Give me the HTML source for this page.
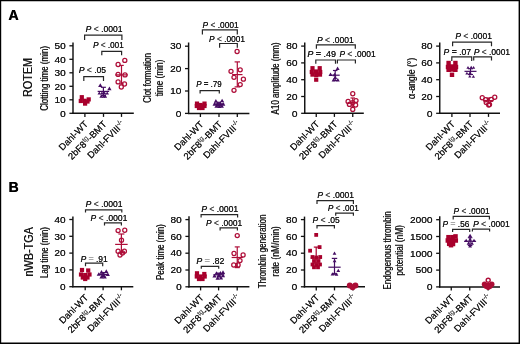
<!DOCTYPE html>
<html><head><meta charset="utf-8"><style>
html,body{margin:0;padding:0;background:#fff;width:520px;height:344px;overflow:hidden}
svg{display:block;will-change:transform}
text{font-family:"Liberation Sans", sans-serif}
</style></head><body>
<svg width="520" height="344" viewBox="0 0 520 344" font-family='"Liberation Sans", sans-serif'>
<rect x="0" y="0" width="520" height="344" fill="#fff"/>
<path d="M0 0H520V344H0Z M1.2 1.2V342.5H518.6V1.2Z" fill="#000" fill-rule="evenodd"/>
<text x="8.2" y="19.9" font-size="14" font-weight="bold" fill="#000">A</text>
<text x="8.4" y="191.9" font-size="14" font-weight="bold" fill="#000">B</text>
<text x="8.65" y="19.9" font-size="14" font-weight="bold" fill="#000">A</text>
<text x="8.85" y="191.9" font-size="14" font-weight="bold" fill="#000">B</text>
<text transform="translate(32.3 77.3) rotate(-90) scale(0.86 1)" font-size="12.6" text-anchor="middle" fill="#1a1a1a">ROTEM</text>
<text transform="translate(32.5 251.6) rotate(-90) scale(0.86 1)" font-size="12.6" text-anchor="middle" fill="#1a1a1a">nWB-TGA</text>
<text transform="translate(32.3 77.7) rotate(-90) scale(0.86 1)" font-size="12.6" text-anchor="middle" fill="#1a1a1a">ROTEM</text>
<text transform="translate(32.5 252) rotate(-90) scale(0.86 1)" font-size="12.6" text-anchor="middle" fill="#1a1a1a">nWB-TGA</text>
<line x1="73" y1="42.5" x2="73" y2="113.95" stroke="#111" stroke-width="1.45"/>
<line x1="69.4" y1="113.3" x2="73" y2="113.3" stroke="#111" stroke-width="1.3"/>
<text transform="translate(65.7 116.5) scale(1.11 1)" font-size="9.1" text-anchor="end" fill="#1a1a1a">0</text>
<text transform="translate(65.85 116.5) scale(1.11 1)" font-size="9.1" text-anchor="end" fill="#1a1a1a">0</text>
<line x1="69.4" y1="99.8" x2="73" y2="99.8" stroke="#111" stroke-width="1.3"/>
<text transform="translate(65.7 103) scale(1.11 1)" font-size="9.1" text-anchor="end" fill="#1a1a1a">10</text>
<text transform="translate(65.85 103) scale(1.11 1)" font-size="9.1" text-anchor="end" fill="#1a1a1a">10</text>
<line x1="69.4" y1="86.3" x2="73" y2="86.3" stroke="#111" stroke-width="1.3"/>
<text transform="translate(65.7 89.5) scale(1.11 1)" font-size="9.1" text-anchor="end" fill="#1a1a1a">20</text>
<text transform="translate(65.85 89.5) scale(1.11 1)" font-size="9.1" text-anchor="end" fill="#1a1a1a">20</text>
<line x1="69.4" y1="72.8" x2="73" y2="72.8" stroke="#111" stroke-width="1.3"/>
<text transform="translate(65.7 76) scale(1.11 1)" font-size="9.1" text-anchor="end" fill="#1a1a1a">30</text>
<text transform="translate(65.85 76) scale(1.11 1)" font-size="9.1" text-anchor="end" fill="#1a1a1a">30</text>
<line x1="69.4" y1="59.3" x2="73" y2="59.3" stroke="#111" stroke-width="1.3"/>
<text transform="translate(65.7 62.5) scale(1.11 1)" font-size="9.1" text-anchor="end" fill="#1a1a1a">40</text>
<text transform="translate(65.85 62.5) scale(1.11 1)" font-size="9.1" text-anchor="end" fill="#1a1a1a">40</text>
<line x1="69.4" y1="45.8" x2="73" y2="45.8" stroke="#111" stroke-width="1.3"/>
<text transform="translate(65.7 49) scale(1.11 1)" font-size="9.1" text-anchor="end" fill="#1a1a1a">50</text>
<text transform="translate(65.85 49) scale(1.11 1)" font-size="9.1" text-anchor="end" fill="#1a1a1a">50</text>
<line x1="72.3" y1="113.3" x2="133.8" y2="113.3" stroke="#111" stroke-width="1.45"/>
<line x1="84.9" y1="113.3" x2="84.9" y2="116.9" stroke="#111" stroke-width="1.3"/>
<line x1="103.5" y1="113.3" x2="103.5" y2="116.9" stroke="#111" stroke-width="1.3"/>
<line x1="121.5" y1="113.3" x2="121.5" y2="116.9" stroke="#111" stroke-width="1.3"/>
<text transform="translate(88.6 124.8) rotate(-45)" font-size="9.4" text-anchor="end" fill="#1a1a1a">Dahl-WT</text>
<text transform="translate(88.75 124.8) rotate(-45)" font-size="9.4" text-anchor="end" fill="#1a1a1a">Dahl-WT</text>
<text transform="translate(107.2 124.8) rotate(-45)" font-size="9.4" text-anchor="end" fill="#1a1a1a">2bF8<tspan font-size="6.8" dy="-3.4" fill="#555">tg</tspan><tspan dy="3.4">-BMT</tspan></text>
<text transform="translate(107.35 124.8) rotate(-45)" font-size="9.4" text-anchor="end" fill="#1a1a1a">2bF8<tspan font-size="6.8" dy="-3.4" fill="#555">tg</tspan><tspan dy="3.4">-BMT</tspan></text>
<text transform="translate(125.2 124.8) rotate(-45)" font-size="9.4" text-anchor="end" fill="#1a1a1a">Dahl-FVIII<tspan font-size="6.4" dy="-3.8">-/-</tspan></text>
<text transform="translate(125.35 124.8) rotate(-45)" font-size="9.4" text-anchor="end" fill="#1a1a1a">Dahl-FVIII<tspan font-size="6.4" dy="-3.8">-/-</tspan></text>
<line x1="188.6" y1="42.5" x2="188.6" y2="114.05" stroke="#111" stroke-width="1.45"/>
<line x1="185" y1="113.4" x2="188.6" y2="113.4" stroke="#111" stroke-width="1.3"/>
<text transform="translate(181.3 116.6) scale(1.11 1)" font-size="9.1" text-anchor="end" fill="#1a1a1a">0</text>
<text transform="translate(181.45 116.6) scale(1.11 1)" font-size="9.1" text-anchor="end" fill="#1a1a1a">0</text>
<line x1="185" y1="91" x2="188.6" y2="91" stroke="#111" stroke-width="1.3"/>
<text transform="translate(181.3 94.2) scale(1.11 1)" font-size="9.1" text-anchor="end" fill="#1a1a1a">10</text>
<text transform="translate(181.45 94.2) scale(1.11 1)" font-size="9.1" text-anchor="end" fill="#1a1a1a">10</text>
<line x1="185" y1="68.6" x2="188.6" y2="68.6" stroke="#111" stroke-width="1.3"/>
<text transform="translate(181.3 71.8) scale(1.11 1)" font-size="9.1" text-anchor="end" fill="#1a1a1a">20</text>
<text transform="translate(181.45 71.8) scale(1.11 1)" font-size="9.1" text-anchor="end" fill="#1a1a1a">20</text>
<line x1="185" y1="46.2" x2="188.6" y2="46.2" stroke="#111" stroke-width="1.3"/>
<text transform="translate(181.3 49.4) scale(1.11 1)" font-size="9.1" text-anchor="end" fill="#1a1a1a">30</text>
<text transform="translate(181.45 49.4) scale(1.11 1)" font-size="9.1" text-anchor="end" fill="#1a1a1a">30</text>
<line x1="187.9" y1="113.4" x2="249.4" y2="113.4" stroke="#111" stroke-width="1.45"/>
<line x1="200.4" y1="113.4" x2="200.4" y2="117" stroke="#111" stroke-width="1.3"/>
<line x1="219" y1="113.4" x2="219" y2="117" stroke="#111" stroke-width="1.3"/>
<line x1="237.3" y1="113.4" x2="237.3" y2="117" stroke="#111" stroke-width="1.3"/>
<text transform="translate(204.1 124.9) rotate(-45)" font-size="9.4" text-anchor="end" fill="#1a1a1a">Dahl-WT</text>
<text transform="translate(204.25 124.9) rotate(-45)" font-size="9.4" text-anchor="end" fill="#1a1a1a">Dahl-WT</text>
<text transform="translate(222.7 124.9) rotate(-45)" font-size="9.4" text-anchor="end" fill="#1a1a1a">2bF8<tspan font-size="6.8" dy="-3.4" fill="#555">tg</tspan><tspan dy="3.4">-BMT</tspan></text>
<text transform="translate(222.85 124.9) rotate(-45)" font-size="9.4" text-anchor="end" fill="#1a1a1a">2bF8<tspan font-size="6.8" dy="-3.4" fill="#555">tg</tspan><tspan dy="3.4">-BMT</tspan></text>
<text transform="translate(241 124.9) rotate(-45)" font-size="9.4" text-anchor="end" fill="#1a1a1a">Dahl-FVIII<tspan font-size="6.4" dy="-3.8">-/-</tspan></text>
<text transform="translate(241.15 124.9) rotate(-45)" font-size="9.4" text-anchor="end" fill="#1a1a1a">Dahl-FVIII<tspan font-size="6.4" dy="-3.8">-/-</tspan></text>
<line x1="304.75" y1="42.5" x2="304.75" y2="113.95" stroke="#111" stroke-width="1.45"/>
<line x1="301.15" y1="113.3" x2="304.75" y2="113.3" stroke="#111" stroke-width="1.3"/>
<text transform="translate(297.45 116.5) scale(1.11 1)" font-size="9.1" text-anchor="end" fill="#1a1a1a">0</text>
<text transform="translate(297.6 116.5) scale(1.11 1)" font-size="9.1" text-anchor="end" fill="#1a1a1a">0</text>
<line x1="301.15" y1="96.5" x2="304.75" y2="96.5" stroke="#111" stroke-width="1.3"/>
<text transform="translate(297.45 99.7) scale(1.11 1)" font-size="9.1" text-anchor="end" fill="#1a1a1a">20</text>
<text transform="translate(297.6 99.7) scale(1.11 1)" font-size="9.1" text-anchor="end" fill="#1a1a1a">20</text>
<line x1="301.15" y1="79.7" x2="304.75" y2="79.7" stroke="#111" stroke-width="1.3"/>
<text transform="translate(297.45 82.9) scale(1.11 1)" font-size="9.1" text-anchor="end" fill="#1a1a1a">40</text>
<text transform="translate(297.6 82.9) scale(1.11 1)" font-size="9.1" text-anchor="end" fill="#1a1a1a">40</text>
<line x1="301.15" y1="62.9" x2="304.75" y2="62.9" stroke="#111" stroke-width="1.3"/>
<text transform="translate(297.45 66.1) scale(1.11 1)" font-size="9.1" text-anchor="end" fill="#1a1a1a">60</text>
<text transform="translate(297.6 66.1) scale(1.11 1)" font-size="9.1" text-anchor="end" fill="#1a1a1a">60</text>
<line x1="301.15" y1="46.1" x2="304.75" y2="46.1" stroke="#111" stroke-width="1.3"/>
<text transform="translate(297.45 49.3) scale(1.11 1)" font-size="9.1" text-anchor="end" fill="#1a1a1a">80</text>
<text transform="translate(297.6 49.3) scale(1.11 1)" font-size="9.1" text-anchor="end" fill="#1a1a1a">80</text>
<line x1="304.05" y1="113.3" x2="363.8" y2="113.3" stroke="#111" stroke-width="1.45"/>
<line x1="316.25" y1="113.3" x2="316.25" y2="116.9" stroke="#111" stroke-width="1.3"/>
<line x1="334.4" y1="113.3" x2="334.4" y2="116.9" stroke="#111" stroke-width="1.3"/>
<line x1="352.75" y1="113.3" x2="352.75" y2="116.9" stroke="#111" stroke-width="1.3"/>
<text transform="translate(319.95 124.8) rotate(-45)" font-size="9.4" text-anchor="end" fill="#1a1a1a">Dahl-WT</text>
<text transform="translate(320.1 124.8) rotate(-45)" font-size="9.4" text-anchor="end" fill="#1a1a1a">Dahl-WT</text>
<text transform="translate(338.1 124.8) rotate(-45)" font-size="9.4" text-anchor="end" fill="#1a1a1a">2bF8<tspan font-size="6.8" dy="-3.4" fill="#555">tg</tspan><tspan dy="3.4">-BMT</tspan></text>
<text transform="translate(338.25 124.8) rotate(-45)" font-size="9.4" text-anchor="end" fill="#1a1a1a">2bF8<tspan font-size="6.8" dy="-3.4" fill="#555">tg</tspan><tspan dy="3.4">-BMT</tspan></text>
<text transform="translate(356.45 124.8) rotate(-45)" font-size="9.4" text-anchor="end" fill="#1a1a1a">Dahl-FVIII<tspan font-size="6.4" dy="-3.8">-/-</tspan></text>
<text transform="translate(356.6 124.8) rotate(-45)" font-size="9.4" text-anchor="end" fill="#1a1a1a">Dahl-FVIII<tspan font-size="6.4" dy="-3.8">-/-</tspan></text>
<line x1="439.75" y1="42.5" x2="439.75" y2="113.95" stroke="#111" stroke-width="1.45"/>
<line x1="436.15" y1="113.3" x2="439.75" y2="113.3" stroke="#111" stroke-width="1.3"/>
<text transform="translate(432.45 116.5) scale(1.11 1)" font-size="9.1" text-anchor="end" fill="#1a1a1a">0</text>
<text transform="translate(432.6 116.5) scale(1.11 1)" font-size="9.1" text-anchor="end" fill="#1a1a1a">0</text>
<line x1="436.15" y1="96.5" x2="439.75" y2="96.5" stroke="#111" stroke-width="1.3"/>
<text transform="translate(432.45 99.7) scale(1.11 1)" font-size="9.1" text-anchor="end" fill="#1a1a1a">20</text>
<text transform="translate(432.6 99.7) scale(1.11 1)" font-size="9.1" text-anchor="end" fill="#1a1a1a">20</text>
<line x1="436.15" y1="79.7" x2="439.75" y2="79.7" stroke="#111" stroke-width="1.3"/>
<text transform="translate(432.45 82.9) scale(1.11 1)" font-size="9.1" text-anchor="end" fill="#1a1a1a">40</text>
<text transform="translate(432.6 82.9) scale(1.11 1)" font-size="9.1" text-anchor="end" fill="#1a1a1a">40</text>
<line x1="436.15" y1="62.9" x2="439.75" y2="62.9" stroke="#111" stroke-width="1.3"/>
<text transform="translate(432.45 66.1) scale(1.11 1)" font-size="9.1" text-anchor="end" fill="#1a1a1a">60</text>
<text transform="translate(432.6 66.1) scale(1.11 1)" font-size="9.1" text-anchor="end" fill="#1a1a1a">60</text>
<line x1="436.15" y1="46.1" x2="439.75" y2="46.1" stroke="#111" stroke-width="1.3"/>
<text transform="translate(432.45 49.3) scale(1.11 1)" font-size="9.1" text-anchor="end" fill="#1a1a1a">80</text>
<text transform="translate(432.6 49.3) scale(1.11 1)" font-size="9.1" text-anchor="end" fill="#1a1a1a">80</text>
<line x1="439.05" y1="113.3" x2="500" y2="113.3" stroke="#111" stroke-width="1.45"/>
<line x1="451.9" y1="113.3" x2="451.9" y2="116.9" stroke="#111" stroke-width="1.3"/>
<line x1="470" y1="113.3" x2="470" y2="116.9" stroke="#111" stroke-width="1.3"/>
<line x1="488.5" y1="113.3" x2="488.5" y2="116.9" stroke="#111" stroke-width="1.3"/>
<text transform="translate(455.6 124.8) rotate(-45)" font-size="9.4" text-anchor="end" fill="#1a1a1a">Dahl-WT</text>
<text transform="translate(455.75 124.8) rotate(-45)" font-size="9.4" text-anchor="end" fill="#1a1a1a">Dahl-WT</text>
<text transform="translate(473.7 124.8) rotate(-45)" font-size="9.4" text-anchor="end" fill="#1a1a1a">2bF8<tspan font-size="6.8" dy="-3.4" fill="#555">tg</tspan><tspan dy="3.4">-BMT</tspan></text>
<text transform="translate(473.85 124.8) rotate(-45)" font-size="9.4" text-anchor="end" fill="#1a1a1a">2bF8<tspan font-size="6.8" dy="-3.4" fill="#555">tg</tspan><tspan dy="3.4">-BMT</tspan></text>
<text transform="translate(492.2 124.8) rotate(-45)" font-size="9.4" text-anchor="end" fill="#1a1a1a">Dahl-FVIII<tspan font-size="6.4" dy="-3.8">-/-</tspan></text>
<text transform="translate(492.35 124.8) rotate(-45)" font-size="9.4" text-anchor="end" fill="#1a1a1a">Dahl-FVIII<tspan font-size="6.4" dy="-3.8">-/-</tspan></text>
<line x1="72.9" y1="216.5" x2="72.9" y2="287.35" stroke="#111" stroke-width="1.45"/>
<line x1="69.3" y1="286.7" x2="72.9" y2="286.7" stroke="#111" stroke-width="1.3"/>
<text transform="translate(65.6 289.9) scale(1.11 1)" font-size="9.1" text-anchor="end" fill="#1a1a1a">0</text>
<text transform="translate(65.75 289.9) scale(1.11 1)" font-size="9.1" text-anchor="end" fill="#1a1a1a">0</text>
<line x1="69.3" y1="269.9" x2="72.9" y2="269.9" stroke="#111" stroke-width="1.3"/>
<text transform="translate(65.6 273.1) scale(1.11 1)" font-size="9.1" text-anchor="end" fill="#1a1a1a">10</text>
<text transform="translate(65.75 273.1) scale(1.11 1)" font-size="9.1" text-anchor="end" fill="#1a1a1a">10</text>
<line x1="69.3" y1="253.1" x2="72.9" y2="253.1" stroke="#111" stroke-width="1.3"/>
<text transform="translate(65.6 256.3) scale(1.11 1)" font-size="9.1" text-anchor="end" fill="#1a1a1a">20</text>
<text transform="translate(65.75 256.3) scale(1.11 1)" font-size="9.1" text-anchor="end" fill="#1a1a1a">20</text>
<line x1="69.3" y1="236.3" x2="72.9" y2="236.3" stroke="#111" stroke-width="1.3"/>
<text transform="translate(65.6 239.5) scale(1.11 1)" font-size="9.1" text-anchor="end" fill="#1a1a1a">30</text>
<text transform="translate(65.75 239.5) scale(1.11 1)" font-size="9.1" text-anchor="end" fill="#1a1a1a">30</text>
<line x1="69.3" y1="219.5" x2="72.9" y2="219.5" stroke="#111" stroke-width="1.3"/>
<text transform="translate(65.6 222.7) scale(1.11 1)" font-size="9.1" text-anchor="end" fill="#1a1a1a">40</text>
<text transform="translate(65.75 222.7) scale(1.11 1)" font-size="9.1" text-anchor="end" fill="#1a1a1a">40</text>
<line x1="72.2" y1="286.7" x2="133.3" y2="286.7" stroke="#111" stroke-width="1.45"/>
<line x1="85.2" y1="286.7" x2="85.2" y2="290.3" stroke="#111" stroke-width="1.3"/>
<line x1="103.1" y1="286.7" x2="103.1" y2="290.3" stroke="#111" stroke-width="1.3"/>
<line x1="121.4" y1="286.7" x2="121.4" y2="290.3" stroke="#111" stroke-width="1.3"/>
<text transform="translate(88.9 298.2) rotate(-45)" font-size="9.4" text-anchor="end" fill="#1a1a1a">Dahl-WT</text>
<text transform="translate(89.05 298.2) rotate(-45)" font-size="9.4" text-anchor="end" fill="#1a1a1a">Dahl-WT</text>
<text transform="translate(106.8 298.2) rotate(-45)" font-size="9.4" text-anchor="end" fill="#1a1a1a">2bF8<tspan font-size="6.8" dy="-3.4" fill="#555">tg</tspan><tspan dy="3.4">-BMT</tspan></text>
<text transform="translate(106.95 298.2) rotate(-45)" font-size="9.4" text-anchor="end" fill="#1a1a1a">2bF8<tspan font-size="6.8" dy="-3.4" fill="#555">tg</tspan><tspan dy="3.4">-BMT</tspan></text>
<text transform="translate(125.1 298.2) rotate(-45)" font-size="9.4" text-anchor="end" fill="#1a1a1a">Dahl-FVIII<tspan font-size="6.4" dy="-3.8">-/-</tspan></text>
<text transform="translate(125.25 298.2) rotate(-45)" font-size="9.4" text-anchor="end" fill="#1a1a1a">Dahl-FVIII<tspan font-size="6.4" dy="-3.8">-/-</tspan></text>
<line x1="189" y1="216.3" x2="189" y2="287.45" stroke="#111" stroke-width="1.45"/>
<line x1="185.4" y1="286.8" x2="189" y2="286.8" stroke="#111" stroke-width="1.3"/>
<text transform="translate(181.7 290) scale(1.11 1)" font-size="9.1" text-anchor="end" fill="#1a1a1a">0</text>
<text transform="translate(181.85 290) scale(1.11 1)" font-size="9.1" text-anchor="end" fill="#1a1a1a">0</text>
<line x1="185.4" y1="270" x2="189" y2="270" stroke="#111" stroke-width="1.3"/>
<text transform="translate(181.7 273.2) scale(1.11 1)" font-size="9.1" text-anchor="end" fill="#1a1a1a">20</text>
<text transform="translate(181.85 273.2) scale(1.11 1)" font-size="9.1" text-anchor="end" fill="#1a1a1a">20</text>
<line x1="185.4" y1="253.2" x2="189" y2="253.2" stroke="#111" stroke-width="1.3"/>
<text transform="translate(181.7 256.4) scale(1.11 1)" font-size="9.1" text-anchor="end" fill="#1a1a1a">40</text>
<text transform="translate(181.85 256.4) scale(1.11 1)" font-size="9.1" text-anchor="end" fill="#1a1a1a">40</text>
<line x1="185.4" y1="236.4" x2="189" y2="236.4" stroke="#111" stroke-width="1.3"/>
<text transform="translate(181.7 239.6) scale(1.11 1)" font-size="9.1" text-anchor="end" fill="#1a1a1a">60</text>
<text transform="translate(181.85 239.6) scale(1.11 1)" font-size="9.1" text-anchor="end" fill="#1a1a1a">60</text>
<line x1="185.4" y1="219.6" x2="189" y2="219.6" stroke="#111" stroke-width="1.3"/>
<text transform="translate(181.7 222.8) scale(1.11 1)" font-size="9.1" text-anchor="end" fill="#1a1a1a">80</text>
<text transform="translate(181.85 222.8) scale(1.11 1)" font-size="9.1" text-anchor="end" fill="#1a1a1a">80</text>
<line x1="188.3" y1="286.8" x2="249.4" y2="286.8" stroke="#111" stroke-width="1.45"/>
<line x1="200.6" y1="286.8" x2="200.6" y2="290.4" stroke="#111" stroke-width="1.3"/>
<line x1="218.6" y1="286.8" x2="218.6" y2="290.4" stroke="#111" stroke-width="1.3"/>
<line x1="237.2" y1="286.8" x2="237.2" y2="290.4" stroke="#111" stroke-width="1.3"/>
<text transform="translate(204.3 298.3) rotate(-45)" font-size="9.4" text-anchor="end" fill="#1a1a1a">Dahl-WT</text>
<text transform="translate(204.45 298.3) rotate(-45)" font-size="9.4" text-anchor="end" fill="#1a1a1a">Dahl-WT</text>
<text transform="translate(222.3 298.3) rotate(-45)" font-size="9.4" text-anchor="end" fill="#1a1a1a">2bF8<tspan font-size="6.8" dy="-3.4" fill="#555">tg</tspan><tspan dy="3.4">-BMT</tspan></text>
<text transform="translate(222.45 298.3) rotate(-45)" font-size="9.4" text-anchor="end" fill="#1a1a1a">2bF8<tspan font-size="6.8" dy="-3.4" fill="#555">tg</tspan><tspan dy="3.4">-BMT</tspan></text>
<text transform="translate(240.9 298.3) rotate(-45)" font-size="9.4" text-anchor="end" fill="#1a1a1a">Dahl-FVIII<tspan font-size="6.4" dy="-3.8">-/-</tspan></text>
<text transform="translate(241.05 298.3) rotate(-45)" font-size="9.4" text-anchor="end" fill="#1a1a1a">Dahl-FVIII<tspan font-size="6.4" dy="-3.8">-/-</tspan></text>
<line x1="304.5" y1="216.6" x2="304.5" y2="287.45" stroke="#111" stroke-width="1.45"/>
<line x1="300.9" y1="286.8" x2="304.5" y2="286.8" stroke="#111" stroke-width="1.3"/>
<text transform="translate(297.2 290) scale(1.11 1)" font-size="9.1" text-anchor="end" fill="#1a1a1a">0</text>
<text transform="translate(297.35 290) scale(1.11 1)" font-size="9.1" text-anchor="end" fill="#1a1a1a">0</text>
<line x1="300.9" y1="270" x2="304.5" y2="270" stroke="#111" stroke-width="1.3"/>
<text transform="translate(297.2 273.2) scale(1.11 1)" font-size="9.1" text-anchor="end" fill="#1a1a1a">20</text>
<text transform="translate(297.35 273.2) scale(1.11 1)" font-size="9.1" text-anchor="end" fill="#1a1a1a">20</text>
<line x1="300.9" y1="253.2" x2="304.5" y2="253.2" stroke="#111" stroke-width="1.3"/>
<text transform="translate(297.2 256.4) scale(1.11 1)" font-size="9.1" text-anchor="end" fill="#1a1a1a">40</text>
<text transform="translate(297.35 256.4) scale(1.11 1)" font-size="9.1" text-anchor="end" fill="#1a1a1a">40</text>
<line x1="300.9" y1="236.4" x2="304.5" y2="236.4" stroke="#111" stroke-width="1.3"/>
<text transform="translate(297.2 239.6) scale(1.11 1)" font-size="9.1" text-anchor="end" fill="#1a1a1a">60</text>
<text transform="translate(297.35 239.6) scale(1.11 1)" font-size="9.1" text-anchor="end" fill="#1a1a1a">60</text>
<line x1="300.9" y1="219.6" x2="304.5" y2="219.6" stroke="#111" stroke-width="1.3"/>
<text transform="translate(297.2 222.8) scale(1.11 1)" font-size="9.1" text-anchor="end" fill="#1a1a1a">80</text>
<text transform="translate(297.35 222.8) scale(1.11 1)" font-size="9.1" text-anchor="end" fill="#1a1a1a">80</text>
<line x1="303.8" y1="286.8" x2="365" y2="286.8" stroke="#111" stroke-width="1.45"/>
<line x1="316.25" y1="286.8" x2="316.25" y2="290.4" stroke="#111" stroke-width="1.3"/>
<line x1="334.5" y1="286.8" x2="334.5" y2="290.4" stroke="#111" stroke-width="1.3"/>
<line x1="353" y1="286.8" x2="353" y2="290.4" stroke="#111" stroke-width="1.3"/>
<text transform="translate(319.95 298.3) rotate(-45)" font-size="9.4" text-anchor="end" fill="#1a1a1a">Dahl-WT</text>
<text transform="translate(320.1 298.3) rotate(-45)" font-size="9.4" text-anchor="end" fill="#1a1a1a">Dahl-WT</text>
<text transform="translate(338.2 298.3) rotate(-45)" font-size="9.4" text-anchor="end" fill="#1a1a1a">2bF8<tspan font-size="6.8" dy="-3.4" fill="#555">tg</tspan><tspan dy="3.4">-BMT</tspan></text>
<text transform="translate(338.35 298.3) rotate(-45)" font-size="9.4" text-anchor="end" fill="#1a1a1a">2bF8<tspan font-size="6.8" dy="-3.4" fill="#555">tg</tspan><tspan dy="3.4">-BMT</tspan></text>
<text transform="translate(356.7 298.3) rotate(-45)" font-size="9.4" text-anchor="end" fill="#1a1a1a">Dahl-FVIII<tspan font-size="6.4" dy="-3.8">-/-</tspan></text>
<text transform="translate(356.85 298.3) rotate(-45)" font-size="9.4" text-anchor="end" fill="#1a1a1a">Dahl-FVIII<tspan font-size="6.4" dy="-3.8">-/-</tspan></text>
<line x1="439.75" y1="216.3" x2="439.75" y2="287.55" stroke="#111" stroke-width="1.45"/>
<line x1="436.15" y1="286.9" x2="439.75" y2="286.9" stroke="#111" stroke-width="1.3"/>
<text transform="translate(432.45 290.1) scale(1.11 1)" font-size="9.1" text-anchor="end" fill="#1a1a1a">0</text>
<text transform="translate(432.6 290.1) scale(1.11 1)" font-size="9.1" text-anchor="end" fill="#1a1a1a">0</text>
<line x1="436.15" y1="270.1" x2="439.75" y2="270.1" stroke="#111" stroke-width="1.3"/>
<text transform="translate(432.45 273.3) scale(1.11 1)" font-size="9.1" text-anchor="end" fill="#1a1a1a">500</text>
<text transform="translate(432.6 273.3) scale(1.11 1)" font-size="9.1" text-anchor="end" fill="#1a1a1a">500</text>
<line x1="436.15" y1="253.3" x2="439.75" y2="253.3" stroke="#111" stroke-width="1.3"/>
<text transform="translate(432.45 256.5) scale(1.11 1)" font-size="9.1" text-anchor="end" fill="#1a1a1a">1000</text>
<text transform="translate(432.6 256.5) scale(1.11 1)" font-size="9.1" text-anchor="end" fill="#1a1a1a">1000</text>
<line x1="436.15" y1="236.5" x2="439.75" y2="236.5" stroke="#111" stroke-width="1.3"/>
<text transform="translate(432.45 239.7) scale(1.11 1)" font-size="9.1" text-anchor="end" fill="#1a1a1a">1500</text>
<text transform="translate(432.6 239.7) scale(1.11 1)" font-size="9.1" text-anchor="end" fill="#1a1a1a">1500</text>
<line x1="436.15" y1="219.7" x2="439.75" y2="219.7" stroke="#111" stroke-width="1.3"/>
<text transform="translate(432.45 222.9) scale(1.11 1)" font-size="9.1" text-anchor="end" fill="#1a1a1a">2000</text>
<text transform="translate(432.6 222.9) scale(1.11 1)" font-size="9.1" text-anchor="end" fill="#1a1a1a">2000</text>
<line x1="439.05" y1="286.9" x2="500" y2="286.9" stroke="#111" stroke-width="1.45"/>
<line x1="451.25" y1="286.9" x2="451.25" y2="290.5" stroke="#111" stroke-width="1.3"/>
<line x1="469.75" y1="286.9" x2="469.75" y2="290.5" stroke="#111" stroke-width="1.3"/>
<line x1="488.1" y1="286.9" x2="488.1" y2="290.5" stroke="#111" stroke-width="1.3"/>
<text transform="translate(454.95 298.4) rotate(-45)" font-size="9.4" text-anchor="end" fill="#1a1a1a">Dahl-WT</text>
<text transform="translate(455.1 298.4) rotate(-45)" font-size="9.4" text-anchor="end" fill="#1a1a1a">Dahl-WT</text>
<text transform="translate(473.45 298.4) rotate(-45)" font-size="9.4" text-anchor="end" fill="#1a1a1a">2bF8<tspan font-size="6.8" dy="-3.4" fill="#555">tg</tspan><tspan dy="3.4">-BMT</tspan></text>
<text transform="translate(473.6 298.4) rotate(-45)" font-size="9.4" text-anchor="end" fill="#1a1a1a">2bF8<tspan font-size="6.8" dy="-3.4" fill="#555">tg</tspan><tspan dy="3.4">-BMT</tspan></text>
<text transform="translate(491.8 298.4) rotate(-45)" font-size="9.4" text-anchor="end" fill="#1a1a1a">Dahl-FVIII<tspan font-size="6.4" dy="-3.8">-/-</tspan></text>
<text transform="translate(491.95 298.4) rotate(-45)" font-size="9.4" text-anchor="end" fill="#1a1a1a">Dahl-FVIII<tspan font-size="6.4" dy="-3.8">-/-</tspan></text>
<text transform="translate(47.6 78.2) rotate(-90) scale(0.74 1)" font-size="10.8" text-anchor="middle" fill="#1a1a1a">Clotting time (min)</text>
<text transform="translate(47.6 78.55) rotate(-90) scale(0.74 1)" font-size="10.8" text-anchor="middle" fill="#1a1a1a">Clotting time (min)</text>
<text transform="translate(150.9 77.8) rotate(-90) scale(0.74 1)" font-size="10.8" text-anchor="middle" fill="#1a1a1a">Clot formation</text>
<text transform="translate(150.9 78.15) rotate(-90) scale(0.74 1)" font-size="10.8" text-anchor="middle" fill="#1a1a1a">Clot formation</text>
<text transform="translate(162.8 77.8) rotate(-90) scale(0.74 1)" font-size="10.8" text-anchor="middle" fill="#1a1a1a" textLength="49.46" lengthAdjust="spacingAndGlyphs">time (min)</text>
<text transform="translate(162.8 78.15) rotate(-90) scale(0.74 1)" font-size="10.8" text-anchor="middle" fill="#1a1a1a" textLength="49.46" lengthAdjust="spacingAndGlyphs">time (min)</text>
<text transform="translate(279 78.3) rotate(-90) scale(0.74 1)" font-size="10.8" text-anchor="middle" fill="#1a1a1a">A10 amplitude (mm)</text>
<text transform="translate(279 78.65) rotate(-90) scale(0.74 1)" font-size="10.8" text-anchor="middle" fill="#1a1a1a">A10 amplitude (mm)</text>
<text transform="translate(414.7 78.2) rotate(-90) scale(0.74 1)" font-size="10.8" text-anchor="middle" fill="#1a1a1a" textLength="55.95" lengthAdjust="spacingAndGlyphs"><tspan font-size="11.5">α</tspan>-angle (°)</text>
<text transform="translate(414.7 78.55) rotate(-90) scale(0.74 1)" font-size="10.8" text-anchor="middle" fill="#1a1a1a" textLength="55.95" lengthAdjust="spacingAndGlyphs"><tspan font-size="11.5">α</tspan>-angle (°)</text>
<text transform="translate(47.6 252.4) rotate(-90) scale(0.74 1)" font-size="10.8" text-anchor="middle" fill="#1a1a1a">Lag time (min)</text>
<text transform="translate(47.6 252.75) rotate(-90) scale(0.74 1)" font-size="10.8" text-anchor="middle" fill="#1a1a1a">Lag time (min)</text>
<text transform="translate(164.2 251.95) rotate(-90) scale(0.74 1)" font-size="10.8" text-anchor="middle" fill="#1a1a1a">Peak time (min)</text>
<text transform="translate(164.2 252.3) rotate(-90) scale(0.74 1)" font-size="10.8" text-anchor="middle" fill="#1a1a1a">Peak time (min)</text>
<text transform="translate(265.9 251.2) rotate(-90) scale(0.74 1)" font-size="10.8" text-anchor="middle" fill="#1a1a1a">Thrombin generation</text>
<text transform="translate(265.9 251.55) rotate(-90) scale(0.74 1)" font-size="10.8" text-anchor="middle" fill="#1a1a1a">Thrombin generation</text>
<text transform="translate(278.6 251.2) rotate(-90) scale(0.74 1)" font-size="10.8" text-anchor="middle" fill="#1a1a1a" textLength="67.84" lengthAdjust="spacingAndGlyphs">rate (nM/min)</text>
<text transform="translate(278.6 251.55) rotate(-90) scale(0.74 1)" font-size="10.8" text-anchor="middle" fill="#1a1a1a" textLength="67.84" lengthAdjust="spacingAndGlyphs">rate (nM/min)</text>
<text transform="translate(390.6 250.2) rotate(-90) scale(0.74 1)" font-size="10.8" text-anchor="middle" fill="#1a1a1a">Endogenous thrombin</text>
<text transform="translate(390.6 250.55) rotate(-90) scale(0.74 1)" font-size="10.8" text-anchor="middle" fill="#1a1a1a">Endogenous thrombin</text>
<text transform="translate(403 250.2) rotate(-90) scale(0.74 1)" font-size="10.8" text-anchor="middle" fill="#1a1a1a" textLength="68.24" lengthAdjust="spacingAndGlyphs">potential (nM)</text>
<text transform="translate(403 250.55) rotate(-90) scale(0.74 1)" font-size="10.8" text-anchor="middle" fill="#1a1a1a" textLength="68.24" lengthAdjust="spacingAndGlyphs">potential (nM)</text>
<path d="M84.6 40V35.2H121.9V40" fill="none" stroke="#262626" stroke-width="1.2"/>
<text x="85.6" y="32.1" font-size="8.6" fill="#1a1a1a" textLength="36.9" lengthAdjust="spacingAndGlyphs"><tspan font-style="italic">P</tspan> <tspan fill="#4a4a4a" font-size="8.6">&lt;</tspan> .0001</text>
<text x="85.7" y="32.1" font-size="8.6" fill="#1a1a1a" textLength="36.9" lengthAdjust="spacingAndGlyphs"><tspan font-style="italic">P</tspan> <tspan fill="#4a4a4a" font-size="8.6">&lt;</tspan> .0001</text>
<path d="M101.8 55.2V51.4H121.6V55.2" fill="none" stroke="#262626" stroke-width="1.2"/>
<text x="93.1" y="47.8" font-size="8.6" fill="#1a1a1a" textLength="30.6" lengthAdjust="spacingAndGlyphs"><tspan font-style="italic">P</tspan> <tspan fill="#4a4a4a" font-size="8.6">&lt;</tspan> .001</text>
<text x="93.2" y="47.8" font-size="8.6" fill="#1a1a1a" textLength="30.6" lengthAdjust="spacingAndGlyphs"><tspan font-style="italic">P</tspan> <tspan fill="#4a4a4a" font-size="8.6">&lt;</tspan> .001</text>
<path d="M83.8 81V76.6H103.5V81" fill="none" stroke="#262626" stroke-width="1.2"/>
<text x="78.8" y="73.2" font-size="8.6" fill="#1a1a1a" textLength="27.2" lengthAdjust="spacingAndGlyphs"><tspan font-style="italic">P</tspan> <tspan fill="#4a4a4a" font-size="8.6">&lt;</tspan> .05</text>
<text x="78.9" y="73.2" font-size="8.6" fill="#1a1a1a" textLength="27.2" lengthAdjust="spacingAndGlyphs"><tspan font-style="italic">P</tspan> <tspan fill="#4a4a4a" font-size="8.6">&lt;</tspan> .05</text>
<path d="M202.4 34.4V29.8H237.3V34.4" fill="none" stroke="#262626" stroke-width="1.2"/>
<text x="202.5" y="27.8" font-size="8.6" fill="#1a1a1a" textLength="36.2" lengthAdjust="spacingAndGlyphs"><tspan font-style="italic">P</tspan> <tspan fill="#4a4a4a" font-size="8.6">&lt;</tspan> .0001</text>
<text x="202.6" y="27.8" font-size="8.6" fill="#1a1a1a" textLength="36.2" lengthAdjust="spacingAndGlyphs"><tspan font-style="italic">P</tspan> <tspan fill="#4a4a4a" font-size="8.6">&lt;</tspan> .0001</text>
<path d="M219.6 47.7V43.5H237.3V47.7" fill="none" stroke="#262626" stroke-width="1.2"/>
<text x="209" y="41.9" font-size="8.6" fill="#1a1a1a" textLength="36" lengthAdjust="spacingAndGlyphs"><tspan font-style="italic">P</tspan> <tspan fill="#4a4a4a" font-size="8.6">&lt;</tspan> .0001</text>
<text x="209.1" y="41.9" font-size="8.6" fill="#1a1a1a" textLength="36" lengthAdjust="spacingAndGlyphs"><tspan font-style="italic">P</tspan> <tspan fill="#4a4a4a" font-size="8.6">&lt;</tspan> .0001</text>
<path d="M200.1 93.6V90.6H219.3V93.6" fill="none" stroke="#262626" stroke-width="1.2"/>
<text x="196.2" y="87.4" font-size="8.6" fill="#1a1a1a" textLength="25.5" lengthAdjust="spacingAndGlyphs"><tspan font-style="italic">P</tspan> <tspan fill="#1a1a1a" font-weight="bold">=</tspan> .79</text>
<text x="196.3" y="87.4" font-size="8.6" fill="#1a1a1a" textLength="25.5" lengthAdjust="spacingAndGlyphs"><tspan font-style="italic">P</tspan> <tspan fill="#1a1a1a" font-weight="bold">=</tspan> .79</text>
<path d="M316.4 48.8V44.8H355.3V48.8" fill="none" stroke="#262626" stroke-width="1.2"/>
<text x="316.9" y="43.1" font-size="8.6" fill="#1a1a1a" textLength="36.8" lengthAdjust="spacingAndGlyphs"><tspan font-style="italic">P</tspan> <tspan fill="#4a4a4a" font-size="8.6">&lt;</tspan> .0001</text>
<text x="317" y="43.1" font-size="8.6" fill="#1a1a1a" textLength="36.8" lengthAdjust="spacingAndGlyphs"><tspan font-style="italic">P</tspan> <tspan fill="#4a4a4a" font-size="8.6">&lt;</tspan> .0001</text>
<path d="M315.8 63.7V60H335.5V63.7" fill="none" stroke="#262626" stroke-width="1.2"/>
<text x="307.3" y="56.9" font-size="8.6" fill="#1a1a1a" textLength="28.7" lengthAdjust="spacingAndGlyphs"><tspan font-style="italic">P</tspan> <tspan fill="#1a1a1a" font-weight="bold">=</tspan> .49</text>
<text x="307.4" y="56.9" font-size="8.6" fill="#1a1a1a" textLength="28.7" lengthAdjust="spacingAndGlyphs"><tspan font-style="italic">P</tspan> <tspan fill="#1a1a1a" font-weight="bold">=</tspan> .49</text>
<path d="M337.4 63.5V60H355.4V63.5" fill="none" stroke="#262626" stroke-width="1.2"/>
<text x="339.4" y="56.9" font-size="8.6" fill="#1a1a1a" textLength="36.2" lengthAdjust="spacingAndGlyphs"><tspan font-style="italic">P</tspan> <tspan fill="#4a4a4a" font-size="8.6">&lt;</tspan> .0001</text>
<text x="339.5" y="56.9" font-size="8.6" fill="#1a1a1a" textLength="36.2" lengthAdjust="spacingAndGlyphs"><tspan font-style="italic">P</tspan> <tspan fill="#4a4a4a" font-size="8.6">&lt;</tspan> .0001</text>
<path d="M452.6 46.3V42.1H491.5V46.3" fill="none" stroke="#262626" stroke-width="1.2"/>
<text x="455.3" y="39.2" font-size="8.6" fill="#1a1a1a" textLength="36.6" lengthAdjust="spacingAndGlyphs"><tspan font-style="italic">P</tspan> <tspan fill="#4a4a4a" font-size="8.6">&lt;</tspan> .0001</text>
<text x="455.4" y="39.2" font-size="8.6" fill="#1a1a1a" textLength="36.6" lengthAdjust="spacingAndGlyphs"><tspan font-style="italic">P</tspan> <tspan fill="#4a4a4a" font-size="8.6">&lt;</tspan> .0001</text>
<path d="M451.8 61V56.9H471.7V61" fill="none" stroke="#262626" stroke-width="1.2"/>
<text x="443.5" y="54.5" font-size="8.6" fill="#1a1a1a" textLength="27.5" lengthAdjust="spacingAndGlyphs"><tspan font-style="italic">P</tspan> <tspan fill="#1a1a1a" font-weight="bold">=</tspan> .07</text>
<text x="443.6" y="54.5" font-size="8.6" fill="#1a1a1a" textLength="27.5" lengthAdjust="spacingAndGlyphs"><tspan font-style="italic">P</tspan> <tspan fill="#1a1a1a" font-weight="bold">=</tspan> .07</text>
<path d="M473.7 60.6V56.9H491.5V60.6" fill="none" stroke="#262626" stroke-width="1.2"/>
<text x="473.8" y="54.8" font-size="8.6" fill="#1a1a1a" textLength="36.2" lengthAdjust="spacingAndGlyphs"><tspan font-style="italic">P</tspan> <tspan fill="#4a4a4a" font-size="8.6">&lt;</tspan> .0001</text>
<text x="473.9" y="54.8" font-size="8.6" fill="#1a1a1a" textLength="36.2" lengthAdjust="spacingAndGlyphs"><tspan font-style="italic">P</tspan> <tspan fill="#4a4a4a" font-size="8.6">&lt;</tspan> .0001</text>
<path d="M85.5 212.6V209.8H121.8V212.6" fill="none" stroke="#262626" stroke-width="1.2"/>
<text x="85.6" y="207.3" font-size="8.6" fill="#1a1a1a" textLength="36.9" lengthAdjust="spacingAndGlyphs"><tspan font-style="italic">P</tspan> <tspan fill="#4a4a4a" font-size="8.6">&lt;</tspan> .0001</text>
<text x="85.7" y="207.3" font-size="8.6" fill="#1a1a1a" textLength="36.9" lengthAdjust="spacingAndGlyphs"><tspan font-style="italic">P</tspan> <tspan fill="#4a4a4a" font-size="8.6">&lt;</tspan> .0001</text>
<path d="M104.5 225.6V222.9H121.4V225.6" fill="none" stroke="#262626" stroke-width="1.2"/>
<text x="90.5" y="221" font-size="8.6" fill="#1a1a1a" textLength="36.8" lengthAdjust="spacingAndGlyphs"><tspan font-style="italic">P</tspan> <tspan fill="#4a4a4a" font-size="8.6">&lt;</tspan> .0001</text>
<text x="90.6" y="221" font-size="8.6" fill="#1a1a1a" textLength="36.8" lengthAdjust="spacingAndGlyphs"><tspan font-style="italic">P</tspan> <tspan fill="#4a4a4a" font-size="8.6">&lt;</tspan> .0001</text>
<path d="M85.5 266.3V263.2H102.7V266.3" fill="none" stroke="#262626" stroke-width="1.2"/>
<text x="80.6" y="261.5" font-size="8.6" fill="#1a1a1a" textLength="27.1" lengthAdjust="spacingAndGlyphs"><tspan font-style="italic">P</tspan> <tspan fill="#a8a8a8" font-weight="bold">=</tspan> .91</text>
<text x="80.7" y="261.5" font-size="8.6" fill="#1a1a1a" textLength="27.1" lengthAdjust="spacingAndGlyphs"><tspan font-style="italic">P</tspan> <tspan fill="#a8a8a8" font-weight="bold">=</tspan> .91</text>
<path d="M201.1 217.5V214.7H237.6V217.5" fill="none" stroke="#262626" stroke-width="1.2"/>
<text x="201.3" y="212.3" font-size="8.6" fill="#1a1a1a" textLength="36.8" lengthAdjust="spacingAndGlyphs"><tspan font-style="italic">P</tspan> <tspan fill="#4a4a4a" font-size="8.6">&lt;</tspan> .0001</text>
<text x="201.4" y="212.3" font-size="8.6" fill="#1a1a1a" textLength="36.8" lengthAdjust="spacingAndGlyphs"><tspan font-style="italic">P</tspan> <tspan fill="#4a4a4a" font-size="8.6">&lt;</tspan> .0001</text>
<path d="M220.1 230.6V227.8H237.4V230.6" fill="none" stroke="#262626" stroke-width="1.2"/>
<text x="206" y="226.1" font-size="8.6" fill="#1a1a1a" textLength="36.2" lengthAdjust="spacingAndGlyphs"><tspan font-style="italic">P</tspan> <tspan fill="#4a4a4a" font-size="8.6">&lt;</tspan> .0001</text>
<text x="206.1" y="226.1" font-size="8.6" fill="#1a1a1a" textLength="36.2" lengthAdjust="spacingAndGlyphs"><tspan font-style="italic">P</tspan> <tspan fill="#4a4a4a" font-size="8.6">&lt;</tspan> .0001</text>
<path d="M201.3 268.8V266.3H218.7V268.8" fill="none" stroke="#262626" stroke-width="1.2"/>
<text x="196.3" y="263.5" font-size="8.6" fill="#1a1a1a" textLength="28.1" lengthAdjust="spacingAndGlyphs"><tspan font-style="italic">P</tspan> <tspan fill="#a8a8a8" font-weight="bold">=</tspan> .82</text>
<text x="196.4" y="263.5" font-size="8.6" fill="#1a1a1a" textLength="28.1" lengthAdjust="spacingAndGlyphs"><tspan font-style="italic">P</tspan> <tspan fill="#a8a8a8" font-weight="bold">=</tspan> .82</text>
<path d="M317 204V200.7H353.4V204" fill="none" stroke="#262626" stroke-width="1.2"/>
<text x="317.3" y="198.1" font-size="8.6" fill="#1a1a1a" textLength="36.7" lengthAdjust="spacingAndGlyphs"><tspan font-style="italic">P</tspan> <tspan fill="#4a4a4a" font-size="8.6">&lt;</tspan> .0001</text>
<text x="317.4" y="198.1" font-size="8.6" fill="#1a1a1a" textLength="36.7" lengthAdjust="spacingAndGlyphs"><tspan font-style="italic">P</tspan> <tspan fill="#4a4a4a" font-size="8.6">&lt;</tspan> .0001</text>
<path d="M335.7 215.7V213.2H353.4V215.7" fill="none" stroke="#262626" stroke-width="1.2"/>
<text x="327.8" y="211.3" font-size="8.6" fill="#1a1a1a" textLength="31" lengthAdjust="spacingAndGlyphs"><tspan font-style="italic">P</tspan> <tspan fill="#4a4a4a" font-size="8.6">&lt;</tspan> .001</text>
<text x="327.9" y="211.3" font-size="8.6" fill="#1a1a1a" textLength="31" lengthAdjust="spacingAndGlyphs"><tspan font-style="italic">P</tspan> <tspan fill="#4a4a4a" font-size="8.6">&lt;</tspan> .001</text>
<path d="M317 228.5V225.7H334.4V228.5" fill="none" stroke="#262626" stroke-width="1.2"/>
<text x="312.5" y="223.3" font-size="8.6" fill="#1a1a1a" textLength="27.2" lengthAdjust="spacingAndGlyphs"><tspan font-style="italic">P</tspan> <tspan fill="#4a4a4a" font-size="8.6">&lt;</tspan> .05</text>
<text x="312.6" y="223.3" font-size="8.6" fill="#1a1a1a" textLength="27.2" lengthAdjust="spacingAndGlyphs"><tspan font-style="italic">P</tspan> <tspan fill="#4a4a4a" font-size="8.6">&lt;</tspan> .05</text>
<path d="M453.2 219.4V216.3H489.4V219.4" fill="none" stroke="#262626" stroke-width="1.2"/>
<text x="453.5" y="213.8" font-size="8.6" fill="#1a1a1a" textLength="36.2" lengthAdjust="spacingAndGlyphs"><tspan font-style="italic">P</tspan> <tspan fill="#4a4a4a" font-size="8.6">&lt;</tspan> .0001</text>
<text x="453.6" y="213.8" font-size="8.6" fill="#1a1a1a" textLength="36.2" lengthAdjust="spacingAndGlyphs"><tspan font-style="italic">P</tspan> <tspan fill="#4a4a4a" font-size="8.6">&lt;</tspan> .0001</text>
<path d="M452.6 231.9V229.3H469.7V231.9" fill="none" stroke="#262626" stroke-width="1.2"/>
<text x="442.5" y="227.3" font-size="8.6" fill="#1a1a1a" textLength="26.9" lengthAdjust="spacingAndGlyphs"><tspan font-style="italic">P</tspan> <tspan fill="#a8a8a8" font-weight="bold">=</tspan> .56</text>
<text x="442.6" y="227.3" font-size="8.6" fill="#1a1a1a" textLength="26.9" lengthAdjust="spacingAndGlyphs"><tspan font-style="italic">P</tspan> <tspan fill="#a8a8a8" font-weight="bold">=</tspan> .56</text>
<path d="M472.4 231.6V229.1H489.6V231.6" fill="none" stroke="#262626" stroke-width="1.2"/>
<text x="473.1" y="227.3" font-size="8.6" fill="#1a1a1a" textLength="36.6" lengthAdjust="spacingAndGlyphs"><tspan font-style="italic">P</tspan> <tspan fill="#4a4a4a" font-size="8.6">&lt;</tspan> .0001</text>
<text x="473.2" y="227.3" font-size="8.6" fill="#1a1a1a" textLength="36.6" lengthAdjust="spacingAndGlyphs"><tspan font-style="italic">P</tspan> <tspan fill="#4a4a4a" font-size="8.6">&lt;</tspan> .0001</text>
<rect x="79.7" y="95.1" width="4.2" height="4.2" fill="#a8002c"/>
<rect x="86.6" y="97.3" width="4.2" height="4.2" fill="#a8002c"/>
<rect x="78.7" y="98.9" width="4.2" height="4.2" fill="#a8002c"/>
<rect x="82.4" y="98.7" width="4.2" height="4.2" fill="#a8002c"/>
<rect x="85.4" y="99.4" width="4.2" height="4.2" fill="#a8002c"/>
<rect x="83" y="101.5" width="4.2" height="4.2" fill="#a8002c"/>
<line x1="103.4" y1="87.3" x2="103.4" y2="95.4" stroke="#450d63" stroke-width="1.2"/>
<line x1="100.9" y1="87.3" x2="105.9" y2="87.3" stroke="#450d63" stroke-width="1.2"/>
<line x1="100.9" y1="95.4" x2="105.9" y2="95.4" stroke="#450d63" stroke-width="1.2"/>
<line x1="97.65" y1="91.4" x2="109.15" y2="91.4" stroke="#450d63" stroke-width="1.2"/>
<path d="M100.3 83.36L102.45 87.1L98.15 87.1Z" fill="#450d63"/>
<path d="M109.4 86.56L111.55 90.3L107.25 90.3Z" fill="#450d63"/>
<path d="M99.3 91.42L101.1 94.55L97.5 94.55Z" fill="#450d63"/>
<path d="M101.9 91.42L103.7 94.55L100.1 94.55Z" fill="#450d63"/>
<path d="M104.6 91.42L106.4 94.55L102.8 94.55Z" fill="#450d63"/>
<path d="M107.2 91.42L109 94.55L105.4 94.55Z" fill="#450d63"/>
<path d="M101.2 94.52L103 97.65L99.4 97.65Z" fill="#450d63"/>
<path d="M103.5 94.52L105.3 97.65L101.7 97.65Z" fill="#450d63"/>
<path d="M105.3 94.52L107.1 97.65L103.5 97.65Z" fill="#450d63"/>
<circle cx="124.8" cy="60.4" r="2.05" fill="none" stroke="#ae0d38" stroke-width="1.25"/>
<circle cx="118.1" cy="64.5" r="2.05" fill="none" stroke="#ae0d38" stroke-width="1.25"/>
<circle cx="118.1" cy="74.4" r="2.05" fill="none" stroke="#ae0d38" stroke-width="1.25"/>
<circle cx="125" cy="74.9" r="2.05" fill="none" stroke="#ae0d38" stroke-width="1.25"/>
<circle cx="118.1" cy="81.9" r="2.05" fill="none" stroke="#ae0d38" stroke-width="1.25"/>
<circle cx="124.5" cy="84" r="2.05" fill="none" stroke="#ae0d38" stroke-width="1.25"/>
<circle cx="121.3" cy="87" r="2.05" fill="none" stroke="#ae0d38" stroke-width="1.25"/>
<line x1="121.5" y1="65.4" x2="121.5" y2="84" stroke="#ae0d38" stroke-width="1.2"/>
<line x1="119.25" y1="65.4" x2="123.75" y2="65.4" stroke="#ae0d38" stroke-width="1.2"/>
<line x1="119.25" y1="84" x2="123.75" y2="84" stroke="#ae0d38" stroke-width="1.2"/>
<line x1="115.25" y1="74.9" x2="127.75" y2="74.9" stroke="#ae0d38" stroke-width="1.2"/>
<rect x="194.9" y="101.5" width="4.2" height="4.2" fill="#a8002c"/>
<rect x="202.4" y="101.5" width="4.2" height="4.2" fill="#a8002c"/>
<rect x="198.6" y="102.9" width="4.2" height="4.2" fill="#a8002c"/>
<rect x="194.7" y="103.9" width="4.2" height="4.2" fill="#a8002c"/>
<rect x="198.6" y="104.4" width="4.2" height="4.2" fill="#a8002c"/>
<rect x="202.4" y="103.9" width="4.2" height="4.2" fill="#a8002c"/>
<rect x="196.9" y="105.9" width="4.2" height="4.2" fill="#a8002c"/>
<rect x="200.4" y="105.9" width="4.2" height="4.2" fill="#a8002c"/>
<path d="M215.9 99.01L218 102.66L213.8 102.66Z" fill="#450d63"/>
<path d="M222.1 98.71L224.2 102.36L220 102.36Z" fill="#450d63"/>
<path d="M214.6 102.01L216.7 105.66L212.5 105.66Z" fill="#450d63"/>
<path d="M217.5 101.61L219.6 105.26L215.4 105.26Z" fill="#450d63"/>
<path d="M220.5 101.61L222.6 105.26L218.4 105.26Z" fill="#450d63"/>
<path d="M223.2 102.01L225.3 105.66L221.1 105.66Z" fill="#450d63"/>
<path d="M216.5 104.21L218.6 107.86L214.4 107.86Z" fill="#450d63"/>
<path d="M219.3 104.41L221.4 108.06L217.2 108.06Z" fill="#450d63"/>
<path d="M221.8 104.01L223.9 107.66L219.7 107.66Z" fill="#450d63"/>
<path d="M219 102.61L221.1 106.26L216.9 106.26Z" fill="#450d63"/>
<line x1="219" y1="102.3" x2="219" y2="105.6" stroke="#450d63" stroke-width="1.2"/>
<line x1="217" y1="102.3" x2="221" y2="102.3" stroke="#450d63" stroke-width="1.2"/>
<line x1="217" y1="105.6" x2="221" y2="105.6" stroke="#450d63" stroke-width="1.2"/>
<line x1="213.75" y1="104" x2="224.25" y2="104" stroke="#450d63" stroke-width="1.2"/>
<circle cx="237.1" cy="51.5" r="2.05" fill="none" stroke="#ae0d38" stroke-width="1.25"/>
<circle cx="240.2" cy="69.8" r="2.05" fill="none" stroke="#ae0d38" stroke-width="1.25"/>
<circle cx="231" cy="71.3" r="2.05" fill="none" stroke="#ae0d38" stroke-width="1.25"/>
<circle cx="234" cy="77.3" r="2.05" fill="none" stroke="#ae0d38" stroke-width="1.25"/>
<circle cx="243.4" cy="79.2" r="2.05" fill="none" stroke="#ae0d38" stroke-width="1.25"/>
<circle cx="240.2" cy="84.6" r="2.05" fill="none" stroke="#ae0d38" stroke-width="1.25"/>
<circle cx="234" cy="90.3" r="2.05" fill="none" stroke="#ae0d38" stroke-width="1.25"/>
<line x1="237.3" y1="61.9" x2="237.3" y2="86.9" stroke="#ae0d38" stroke-width="1.2"/>
<line x1="234.6" y1="61.9" x2="240" y2="61.9" stroke="#ae0d38" stroke-width="1.2"/>
<line x1="234.6" y1="86.9" x2="240" y2="86.9" stroke="#ae0d38" stroke-width="1.2"/>
<line x1="232.1" y1="74.6" x2="242.5" y2="74.6" stroke="#ae0d38" stroke-width="1.2"/>
<rect x="310.4" y="66.1" width="4.2" height="4.2" fill="#a8002c"/>
<rect x="317.6" y="66.1" width="4.2" height="4.2" fill="#a8002c"/>
<rect x="309.7" y="69.9" width="4.2" height="4.2" fill="#a8002c"/>
<rect x="313.9" y="69.4" width="4.2" height="4.2" fill="#a8002c"/>
<rect x="318.1" y="69.9" width="4.2" height="4.2" fill="#a8002c"/>
<rect x="310.4" y="72.5" width="4.2" height="4.2" fill="#a8002c"/>
<rect x="314.1" y="72.9" width="4.2" height="4.2" fill="#a8002c"/>
<rect x="317.9" y="72.5" width="4.2" height="4.2" fill="#a8002c"/>
<rect x="314.1" y="77.6" width="4.2" height="4.2" fill="#a8002c"/>
<line x1="335.2" y1="70.5" x2="335.2" y2="80.5" stroke="#450d63" stroke-width="1.2"/>
<line x1="332.95" y1="70.5" x2="337.45" y2="70.5" stroke="#450d63" stroke-width="1.2"/>
<line x1="332.95" y1="80.5" x2="337.45" y2="80.5" stroke="#450d63" stroke-width="1.2"/>
<line x1="330.7" y1="75.2" x2="339.7" y2="75.2" stroke="#450d63" stroke-width="1.2"/>
<path d="M337.6 66.51L339.6 69.99L335.6 69.99Z" fill="#450d63"/>
<path d="M330.5 72.41L332.5 75.89L328.5 75.89Z" fill="#450d63"/>
<path d="M334.5 72.71L336.5 76.19L332.5 76.19Z" fill="#450d63"/>
<path d="M333.6 77.91L335.6 81.39L331.6 81.39Z" fill="#450d63"/>
<path d="M337.8 78.11L339.8 81.59L335.8 81.59Z" fill="#450d63"/>
<path d="M335.2 75.51L337.2 78.99L333.2 78.99Z" fill="#450d63"/>
<circle cx="352.75" cy="93.75" r="2.05" fill="none" stroke="#ae0d38" stroke-width="1.25"/>
<circle cx="348.1" cy="101.5" r="2.05" fill="none" stroke="#ae0d38" stroke-width="1.25"/>
<circle cx="356" cy="100.6" r="2.05" fill="none" stroke="#ae0d38" stroke-width="1.25"/>
<circle cx="349.4" cy="104.4" r="2.05" fill="none" stroke="#ae0d38" stroke-width="1.25"/>
<circle cx="355.6" cy="105" r="2.05" fill="none" stroke="#ae0d38" stroke-width="1.25"/>
<circle cx="352.75" cy="109.4" r="2.05" fill="none" stroke="#ae0d38" stroke-width="1.25"/>
<circle cx="352.6" cy="102.6" r="2.05" fill="none" stroke="#ae0d38" stroke-width="1.25"/>
<line x1="352.75" y1="98" x2="352.75" y2="107" stroke="#ae0d38" stroke-width="1.2"/>
<line x1="350.5" y1="98" x2="355" y2="98" stroke="#ae0d38" stroke-width="1.2"/>
<line x1="350.5" y1="107" x2="355" y2="107" stroke="#ae0d38" stroke-width="1.2"/>
<line x1="348.25" y1="102.5" x2="357.25" y2="102.5" stroke="#ae0d38" stroke-width="1.2"/>
<rect x="446.4" y="60.8" width="4.4" height="4.4" fill="#a8002c"/>
<rect x="453.2" y="60.8" width="4.4" height="4.4" fill="#a8002c"/>
<rect x="445.8" y="64.8" width="4.4" height="4.4" fill="#a8002c"/>
<rect x="449.8" y="64.3" width="4.4" height="4.4" fill="#a8002c"/>
<rect x="453.8" y="64.8" width="4.4" height="4.4" fill="#a8002c"/>
<rect x="446.4" y="67.6" width="4.4" height="4.4" fill="#a8002c"/>
<rect x="453.2" y="67.6" width="4.4" height="4.4" fill="#a8002c"/>
<rect x="449.8" y="67.3" width="4.4" height="4.4" fill="#a8002c"/>
<rect x="449.8" y="72.6" width="4.4" height="4.4" fill="#a8002c"/>
<line x1="470.5" y1="68.7" x2="470.5" y2="74.5" stroke="#450d63" stroke-width="1.2"/>
<line x1="468" y1="68.7" x2="473" y2="68.7" stroke="#450d63" stroke-width="1.2"/>
<line x1="468" y1="74.5" x2="473" y2="74.5" stroke="#450d63" stroke-width="1.2"/>
<line x1="464.5" y1="71.35" x2="476.5" y2="71.35" stroke="#450d63" stroke-width="1.2"/>
<path d="M468 65.93L469.6 68.71L466.4 68.71Z" fill="#450d63"/>
<path d="M471.2 65.63L472.8 68.41L469.6 68.41Z" fill="#450d63"/>
<path d="M473.6 65.93L475.2 68.71L472 68.71Z" fill="#450d63"/>
<path d="M466.9 71.73L468.5 74.51L465.3 74.51Z" fill="#450d63"/>
<path d="M470 71.33L471.6 74.11L468.4 74.11Z" fill="#450d63"/>
<path d="M469.8 74.73L471.4 77.51L468.2 77.51Z" fill="#450d63"/>
<path d="M473.4 74.93L475 77.71L471.8 77.71Z" fill="#450d63"/>
<circle cx="482.25" cy="97.75" r="2.05" fill="none" stroke="#ae0d38" stroke-width="1.25"/>
<circle cx="494.75" cy="97.25" r="2.05" fill="none" stroke="#ae0d38" stroke-width="1.25"/>
<circle cx="485.6" cy="99.75" r="2.05" fill="none" stroke="#ae0d38" stroke-width="1.25"/>
<circle cx="491.25" cy="99.4" r="2.05" fill="none" stroke="#ae0d38" stroke-width="1.25"/>
<circle cx="486.25" cy="102.5" r="2.05" fill="none" stroke="#ae0d38" stroke-width="1.25"/>
<circle cx="488.75" cy="105" r="2.05" fill="none" stroke="#ae0d38" stroke-width="1.25"/>
<circle cx="489.5" cy="104.5" r="2.05" fill="none" stroke="#ae0d38" stroke-width="1.25"/>
<line x1="488.5" y1="98" x2="488.5" y2="103.5" stroke="#ae0d38" stroke-width="1.2"/>
<line x1="486.5" y1="98" x2="490.5" y2="98" stroke="#ae0d38" stroke-width="1.2"/>
<line x1="486.5" y1="103.5" x2="490.5" y2="103.5" stroke="#ae0d38" stroke-width="1.2"/>
<line x1="484" y1="100.6" x2="493" y2="100.6" stroke="#ae0d38" stroke-width="1.2"/>
<rect x="79.9" y="267.9" width="4.2" height="4.2" fill="#a8002c"/>
<rect x="86.1" y="268.4" width="4.2" height="4.2" fill="#a8002c"/>
<rect x="78.9" y="272.4" width="4.2" height="4.2" fill="#a8002c"/>
<rect x="83.1" y="272.9" width="4.2" height="4.2" fill="#a8002c"/>
<rect x="87.4" y="272.4" width="4.2" height="4.2" fill="#a8002c"/>
<rect x="80.7" y="275.4" width="4.2" height="4.2" fill="#a8002c"/>
<rect x="85.4" y="275.4" width="4.2" height="4.2" fill="#a8002c"/>
<rect x="83.1" y="276.9" width="4.2" height="4.2" fill="#a8002c"/>
<path d="M101.5 270.01L103.6 273.66L99.4 273.66Z" fill="#450d63"/>
<path d="M106.3 269.31L108.4 272.96L104.2 272.96Z" fill="#450d63"/>
<path d="M98.8 272.21L100.9 275.86L96.7 275.86Z" fill="#450d63"/>
<path d="M103.5 271.81L105.6 275.46L101.4 275.46Z" fill="#450d63"/>
<path d="M107.8 272.41L109.9 276.06L105.7 276.06Z" fill="#450d63"/>
<path d="M101.5 274.81L103.6 278.46L99.4 278.46Z" fill="#450d63"/>
<path d="M104.7 274.81L106.8 278.46L102.6 278.46Z" fill="#450d63"/>
<path d="M103.2 273.41L105.3 277.06L101.1 277.06Z" fill="#450d63"/>
<line x1="103.2" y1="272.6" x2="103.2" y2="276.2" stroke="#450d63" stroke-width="1.2"/>
<line x1="101.2" y1="272.6" x2="105.2" y2="272.6" stroke="#450d63" stroke-width="1.2"/>
<line x1="101.2" y1="276.2" x2="105.2" y2="276.2" stroke="#450d63" stroke-width="1.2"/>
<line x1="97.95" y1="274.4" x2="108.45" y2="274.4" stroke="#450d63" stroke-width="1.2"/>
<circle cx="118.1" cy="230.6" r="2.05" fill="none" stroke="#ae0d38" stroke-width="1.25"/>
<circle cx="124.75" cy="230.25" r="2.05" fill="none" stroke="#ae0d38" stroke-width="1.25"/>
<circle cx="121.5" cy="240.25" r="2.05" fill="none" stroke="#ae0d38" stroke-width="1.25"/>
<circle cx="118.1" cy="251.25" r="2.05" fill="none" stroke="#ae0d38" stroke-width="1.25"/>
<circle cx="124.4" cy="251.25" r="2.05" fill="none" stroke="#ae0d38" stroke-width="1.25"/>
<circle cx="122.5" cy="253" r="2.05" fill="none" stroke="#ae0d38" stroke-width="1.25"/>
<circle cx="120" cy="255" r="2.05" fill="none" stroke="#ae0d38" stroke-width="1.25"/>
<line x1="121.4" y1="234" x2="121.4" y2="252.4" stroke="#ae0d38" stroke-width="1.2"/>
<line x1="118.4" y1="234" x2="124.4" y2="234" stroke="#ae0d38" stroke-width="1.2"/>
<line x1="118.4" y1="252.4" x2="124.4" y2="252.4" stroke="#ae0d38" stroke-width="1.2"/>
<line x1="115.15" y1="244.4" x2="127.65" y2="244.4" stroke="#ae0d38" stroke-width="1.2"/>
<rect x="194.9" y="271.2" width="4.2" height="4.2" fill="#a8002c"/>
<rect x="202.2" y="271.9" width="4.2" height="4.2" fill="#a8002c"/>
<rect x="194.7" y="274.4" width="4.2" height="4.2" fill="#a8002c"/>
<rect x="198.6" y="274.4" width="4.2" height="4.2" fill="#a8002c"/>
<rect x="202.6" y="274.4" width="4.2" height="4.2" fill="#a8002c"/>
<rect x="196.9" y="276.9" width="4.2" height="4.2" fill="#a8002c"/>
<rect x="200.4" y="276.9" width="4.2" height="4.2" fill="#a8002c"/>
<path d="M216.5 271.21L218.6 274.86L214.4 274.86Z" fill="#450d63"/>
<path d="M220.5 271.01L222.6 274.66L218.4 274.66Z" fill="#450d63"/>
<path d="M223 270.31L225.1 273.96L220.9 273.96Z" fill="#450d63"/>
<path d="M214.5 273.81L216.6 277.46L212.4 277.46Z" fill="#450d63"/>
<path d="M219 273.81L221.1 277.46L216.9 277.46Z" fill="#450d63"/>
<path d="M223 273.61L225.1 277.26L220.9 277.26Z" fill="#450d63"/>
<path d="M217.6 276.11L219.7 279.76L215.5 279.76Z" fill="#450d63"/>
<path d="M221 275.81L223.1 279.46L218.9 279.46Z" fill="#450d63"/>
<path d="M219 272.61L221.1 276.26L216.9 276.26Z" fill="#450d63"/>
<line x1="218.8" y1="273.2" x2="218.8" y2="276.6" stroke="#450d63" stroke-width="1.2"/>
<line x1="216.8" y1="273.2" x2="220.8" y2="273.2" stroke="#450d63" stroke-width="1.2"/>
<line x1="216.8" y1="276.6" x2="220.8" y2="276.6" stroke="#450d63" stroke-width="1.2"/>
<line x1="213.3" y1="274.8" x2="224.3" y2="274.8" stroke="#450d63" stroke-width="1.2"/>
<circle cx="237.25" cy="235.6" r="2.05" fill="none" stroke="#ae0d38" stroke-width="1.25"/>
<circle cx="234" cy="253.5" r="2.05" fill="none" stroke="#ae0d38" stroke-width="1.25"/>
<circle cx="243.1" cy="255" r="2.05" fill="none" stroke="#ae0d38" stroke-width="1.25"/>
<circle cx="240" cy="260.6" r="2.05" fill="none" stroke="#ae0d38" stroke-width="1.25"/>
<circle cx="233.75" cy="265" r="2.05" fill="none" stroke="#ae0d38" stroke-width="1.25"/>
<circle cx="238.1" cy="265" r="2.05" fill="none" stroke="#ae0d38" stroke-width="1.25"/>
<line x1="237.25" y1="246.9" x2="237.25" y2="267.6" stroke="#ae0d38" stroke-width="1.2"/>
<line x1="234.75" y1="246.9" x2="239.75" y2="246.9" stroke="#ae0d38" stroke-width="1.2"/>
<line x1="234.75" y1="267.6" x2="239.75" y2="267.6" stroke="#ae0d38" stroke-width="1.2"/>
<line x1="231.65" y1="257.5" x2="242.85" y2="257.5" stroke="#ae0d38" stroke-width="1.2"/>
<rect x="314.3" y="233" width="3.8" height="3.8" fill="#a8002c"/>
<rect x="317.7" y="245.2" width="3.8" height="3.8" fill="#a8002c"/>
<rect x="308.2" y="248.8" width="3.8" height="3.8" fill="#a8002c"/>
<rect x="310.6" y="255.1" width="3.8" height="3.8" fill="#a8002c"/>
<rect x="314.3" y="255.6" width="3.8" height="3.8" fill="#a8002c"/>
<rect x="318.3" y="255.1" width="3.8" height="3.8" fill="#a8002c"/>
<rect x="312.1" y="259.1" width="3.8" height="3.8" fill="#a8002c"/>
<rect x="316.6" y="259.1" width="3.8" height="3.8" fill="#a8002c"/>
<rect x="310.6" y="262.6" width="3.8" height="3.8" fill="#a8002c"/>
<rect x="314.3" y="263.1" width="3.8" height="3.8" fill="#a8002c"/>
<rect x="318.1" y="262.6" width="3.8" height="3.8" fill="#a8002c"/>
<rect x="312.1" y="265.4" width="3.8" height="3.8" fill="#a8002c"/>
<rect x="316.1" y="265.4" width="3.8" height="3.8" fill="#a8002c"/>
<line x1="316.2" y1="247.1" x2="316.2" y2="263" stroke="#a8002c" stroke-width="1.2"/>
<line x1="313.8" y1="247.1" x2="318.6" y2="247.1" stroke="#a8002c" stroke-width="1.2"/>
<line x1="313.8" y1="263" x2="318.6" y2="263" stroke="#a8002c" stroke-width="1.2"/>
<line x1="310.7" y1="258" x2="321.7" y2="258" stroke="#a8002c" stroke-width="1.2"/>
<line x1="334.5" y1="258.4" x2="334.5" y2="273.8" stroke="#450d63" stroke-width="1.2"/>
<line x1="331.8" y1="258.4" x2="337.2" y2="258.4" stroke="#450d63" stroke-width="1.2"/>
<line x1="331.8" y1="273.8" x2="337.2" y2="273.8" stroke="#450d63" stroke-width="1.2"/>
<line x1="328.35" y1="267.2" x2="340.65" y2="267.2" stroke="#450d63" stroke-width="1.2"/>
<path d="M334.5 251.42L336.4 254.72L332.6 254.72Z" fill="#450d63"/>
<path d="M334.6 259.02L336.5 262.32L332.7 262.32Z" fill="#450d63"/>
<path d="M338.3 268.82L340.2 272.12L336.4 272.12Z" fill="#450d63"/>
<path d="M332.5 272.22L334.4 275.52L330.6 275.52Z" fill="#450d63"/>
<path d="M336.5 272.42L338.4 275.72L334.6 275.72Z" fill="#450d63"/>
<path d="M334.5 271.52L336.4 274.82L332.6 274.82Z" fill="#450d63"/>
<circle cx="349.8" cy="285.4" r="3.0" fill="#ac0d36"/>
<circle cx="355.4" cy="285.4" r="3.0" fill="#ac0d36"/>
<circle cx="352.6" cy="287.3" r="3.0" fill="#ac0d36"/>
<rect x="446.25" y="234.95" width="4.5" height="4.5" fill="#a8002c"/>
<rect x="450.25" y="234.95" width="4.5" height="4.5" fill="#a8002c"/>
<rect x="453.25" y="234.15" width="4.5" height="4.5" fill="#a8002c"/>
<rect x="445.55" y="238.25" width="4.5" height="4.5" fill="#a8002c"/>
<rect x="449.55" y="238.25" width="4.5" height="4.5" fill="#a8002c"/>
<rect x="453.55" y="238.25" width="4.5" height="4.5" fill="#a8002c"/>
<rect x="446.95" y="241.55" width="4.5" height="4.5" fill="#a8002c"/>
<rect x="450.75" y="241.75" width="4.5" height="4.5" fill="#a8002c"/>
<rect x="448.75" y="242.95" width="4.5" height="4.5" fill="#a8002c"/>
<line x1="470.1" y1="237.7" x2="470.1" y2="245.5" stroke="#450d63" stroke-width="1.2"/>
<line x1="467.85" y1="237.7" x2="472.35" y2="237.7" stroke="#450d63" stroke-width="1.2"/>
<line x1="467.85" y1="245.5" x2="472.35" y2="245.5" stroke="#450d63" stroke-width="1.2"/>
<line x1="464.1" y1="241.3" x2="476.1" y2="241.3" stroke="#450d63" stroke-width="1.2"/>
<path d="M470.1 233.82L472 237.12L468.2 237.12Z" fill="#450d63"/>
<path d="M466.2 238.82L468.1 242.12L464.3 242.12Z" fill="#450d63"/>
<path d="M474 238.82L475.9 242.12L472.1 242.12Z" fill="#450d63"/>
<path d="M468.5 241.52L470.4 244.82L466.6 244.82Z" fill="#450d63"/>
<path d="M472 241.52L473.9 244.82L470.1 244.82Z" fill="#450d63"/>
<path d="M470.1 244.22L472 247.52L468.2 247.52Z" fill="#450d63"/>
<path d="M470.1 237.52L472 240.82L468.2 240.82Z" fill="#450d63"/>
<circle cx="484.5" cy="284.3" r="2.7" fill="#ac0d36"/>
<circle cx="491.8" cy="284.3" r="2.7" fill="#ac0d36"/>
<circle cx="486.2" cy="286.3" r="2.7" fill="#ac0d36"/>
<circle cx="490" cy="286.3" r="2.7" fill="#ac0d36"/>
<circle cx="488.2" cy="285.5" r="2.7" fill="#ac0d36"/>
<circle cx="488.2" cy="287.2" r="2.7" fill="#ac0d36"/>
<circle cx="488.2" cy="280.2" r="2" fill="none" stroke="#ae0d38" stroke-width="1.4"/>
</svg>
</body></html>
